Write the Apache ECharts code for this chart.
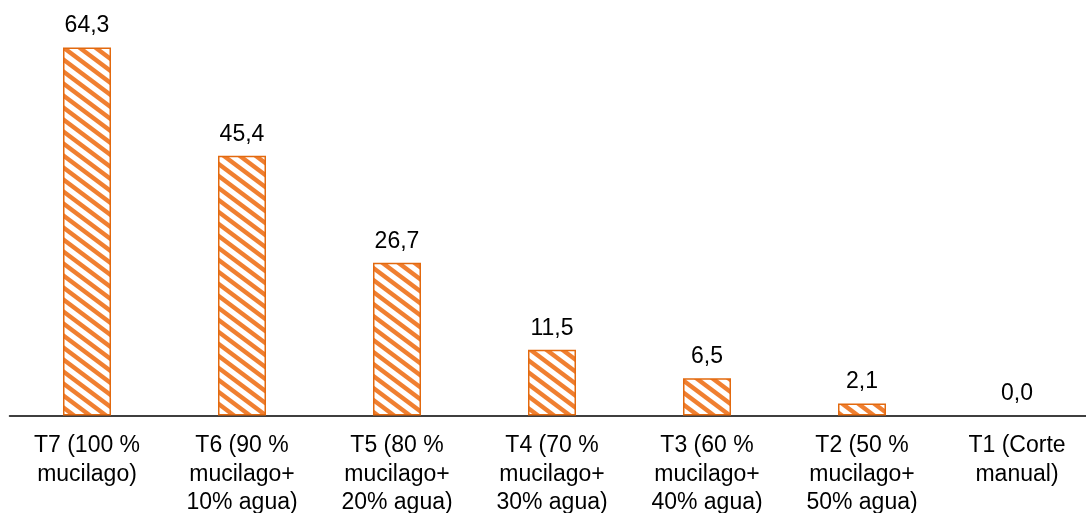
<!DOCTYPE html>
<html><head><meta charset="utf-8">
<script src="https://cdn.jsdelivr.net/npm/echarts@6/dist/echarts.min.js"></script>
<style>html,body{margin:0;padding:0;background:#fff}#c{width:1086px;height:513px}</style>
</head><body><div id="c"></div>
<script>
var categories = ["T7 (100 %\nmucilago)", "T6 (90 %\nmucilago+\n10% agua)", "T5 (80 %\nmucilago+\n20% agua)", "T4 (70 %\nmucilago+\n30% agua)", "T3 (60 %\nmucilago+\n40% agua)", "T2 (50 %\nmucilago+\n50% agua)", "T1 (Corte\nmanual)"];
var values = [64.3, 45.4, 26.7, 11.5, 6.5, 2.1, 0.0];

var tile = document.createElement('canvas');
tile.width = 16; tile.height = 12;
var ctx = tile.getContext('2d');
ctx.fillStyle = '#ffffff'; ctx.fillRect(0,0,16,12);
ctx.strokeStyle = '#F07F30'; ctx.lineWidth = 4.4;
[-12, 0, 12].forEach(function(c){
  ctx.beginPath(); ctx.moveTo(-4, -3 + c); ctx.lineTo(20, 15 + c); ctx.stroke();
});

var chart = echarts.init(document.getElementById('c'));
chart.setOption({
  animation: false,
  grid: {left: 9.5, width: 1085, top: 15, bottom: 97.5, containLabel: false, outerBoundsMode: 'none'},
  xAxis: {
    type: 'category', data: categories,
    axisLine: {lineStyle: {color: '#000', width: 1.5}},
    axisTick: {show: false},
    axisLabel: {color: '#000', fontSize: 23, fontFamily: 'Liberation Sans, Arial', lineHeight: 28.5, margin: 16, interval: 0}
  },
  yAxis: {type: 'value', min: 0, max: 70, show: false, splitLine: {show: false}},
  series: [{
    type: 'bar', barWidth: 48,
    data: values.map(function(v){ return v === 0 ? {value: v, itemStyle: {borderWidth: 0}} : v; }),
    itemStyle: {color: {image: tile, repeat: 'repeat'}, borderColor: '#E2690E', borderWidth: 1.5},
    label: {show: true, position: 'top', distance: 10, color: '#000', fontSize: 23, fontFamily: 'Liberation Sans, Arial',
      formatter: function(p){ return p.value.toFixed(1).replace('.', ','); }}
  }]
});
</script></body></html>
